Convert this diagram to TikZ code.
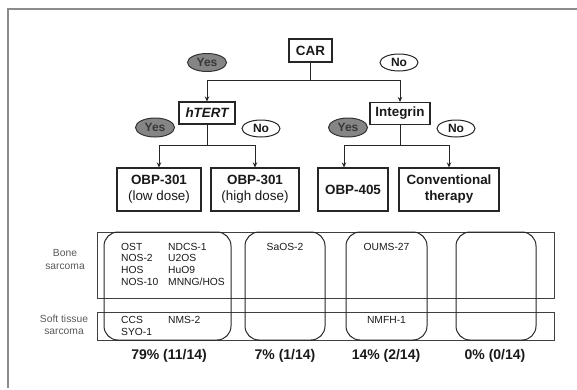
\documentclass[tikz,border=0pt]{standalone}
\usepackage{fontspec}
\setmainfont{Liberation Sans}
\usetikzlibrary{shapes.geometric,arrows.meta}
\begin{document}
\begin{tikzpicture}[x=1pt,y=-1pt,
  box/.style={draw=black!85, line width=1.1pt, fill=white, inner sep=0pt, align=center, text=black!90,
    font=\fontsize{13.4pt}{16pt}\selectfont\bfseries},
  yesnode/.style={ellipse, draw=black!80, line width=1pt, fill=black!48, text=black!78, inner sep=0pt,
    minimum width=39pt, minimum height=18pt, font=\fontsize{12pt}{14pt}\selectfont\bfseries},
  nonode/.style={ellipse, draw=black!85, line width=1pt, fill=white, text=black!90, inner sep=0pt,
    minimum width=38pt, minimum height=17pt, font=\fontsize{12pt}{14pt}\selectfont\bfseries},
  arr/.style={draw=black!85, line width=1pt, -{Stealth[length=5pt,width=4.5pt]}},
  ln/.style={draw=black!85, line width=1pt},
  band/.style={draw=black!75, line width=0.9pt, inner sep=0pt},
  rbox/.style={draw=black!85, line width=1pt, rounded corners=14pt, inner sep=0pt},
  cell/.style={anchor=base west, inner sep=0pt, text=black!90, font=\fontsize{10.3pt}{12pt}\selectfont},
  ccell/.style={anchor=base, inner sep=0pt, text=black!90, font=\fontsize{10.3pt}{12pt}\selectfont},
  lab/.style={anchor=base, inner sep=0pt, text=black!65, font=\fontsize{10.3pt}{12pt}\selectfont},
  pct/.style={anchor=base, inner sep=0pt, text=black!90, font=\fontsize{14pt}{16pt}\selectfont\bfseries}
]
\useasboundingbox (0,0) rectangle (577,389);

% outer frame (top and left edges only)
\coordinate (fbl) at (8,388);
\coordinate (ftl) at (8,9);
\coordinate (ftr) at (577,9);
\draw[black!45, line width=1.6pt] (fbl) -- (ftl) -- (ftr);

% decision tree
\node[box, minimum width=43pt, minimum height=23pt] (car) at (310.5,50.5) {CAR};
\node[yesnode] (yes1) at (207,62.5) {Yes};
\node[nonode] (no1) at (399,62.5) {No};

\node[box, minimum width=56pt, minimum height=22pt] (htert) at (207,113) {\itshape hTERT};
\node[box, minimum width=60pt, minimum height=22pt] (integrin) at (400,113.5) {Integrin};

\node[yesnode, minimum height=19pt] (yes2) at (155,127.5) {Yes};
\node[nonode] (no2) at (261,128.5) {No};
\node[yesnode, minimum height=19pt] (yes3) at (348,127.5) {Yes};
\node[nonode] (no3) at (456,128.5) {No};

\node[box, minimum width=84pt, minimum height=43pt] (low) at (159,189.5) {OBP-301\\\mdseries(low dose)};
\node[box, minimum width=88pt, minimum height=43pt] (high) at (255,189.5) {OBP-301\\\mdseries(high dose)};
\node[box, minimum width=70pt, minimum height=43pt] (obp) at (353,189.5) {OBP-405};
\node[box, minimum width=100pt, minimum height=43pt] (conv) at (449,189.5) {Conventional\\therapy};

\coordinate (j1) at (310.5,80);
\coordinate (j2) at (207,145);
\coordinate (j3) at (400,145);

\draw[ln] (car.south) -- (j1);
\draw[arr] (j1) -| (htert.north);
\draw[arr] (j1) -| (integrin.north);
\draw[ln] (htert.south) -- (j2);
\draw[arr] (j2) -| (low.north);
\draw[arr] (j2) -| (high.north);
\draw[ln] (integrin.south) -- (j3);
\draw[arr] (j3) -| ([xshift=-9pt]obp.north);
\draw[arr] (j3) -| (conv.north);

% bottom table
\node[band, minimum width=457pt, minimum height=66pt] (bone) at (325.5,265) {};
\node[band, minimum width=457pt, minimum height=28pt] (soft) at (325.5,326) {};

\node[rbox, minimum width=127pt, minimum height=108pt] (b1) at (167.5,286) {};
\node[rbox, minimum width=80pt, minimum height=108pt] (b2) at (285,286) {};
\node[rbox, minimum width=81pt, minimum height=108pt] (b3) at (386.5,286) {};
\node[rbox, minimum width=80pt, minimum height=108pt] (b4) at (496,286) {};

\node[lab] (l1) at (65,256) {Bone};
\node[lab] (l2) at (65,269) {sarcoma};
\node[lab] (l3) at (64,322) {Soft tissue};
\node[lab] (l4) at (64,334.5) {sarcoma};

\node[cell] (c1) at (121,250) {OST};
\node[cell] (c2) at (121,261.8) {NOS-2};
\node[cell] (c3) at (121,273.6) {HOS};
\node[cell] (c4) at (121,285.4) {NOS-10};
\node[cell] (c5) at (168,250) {NDCS-1};
\node[cell] (c6) at (168,261.8) {U2OS};
\node[cell] (c7) at (168,273.6) {HuO9};
\node[cell] (c8) at (168,285.4) {MNNG/HOS};
\node[cell] (c9) at (121,323) {CCS};
\node[cell] (c10) at (121,335) {SYO-1};
\node[cell] (c11) at (168,323) {NMS-2};

\node[ccell] (s1) at (285,250) {SaOS-2};
\node[ccell] (s2) at (386.5,250) {OUMS-27};
\node[ccell] (s3) at (386.5,323) {NMFH-1};

\node[pct] (p1) at (169,359) {79\% (11/14)};
\node[pct] (p2) at (285,359) {7\% (1/14)};
\node[pct] (p3) at (386,359) {14\% (2/14)};
\node[pct] (p4) at (495,359) {0\% (0/14)};
\end{tikzpicture}
\end{document}
